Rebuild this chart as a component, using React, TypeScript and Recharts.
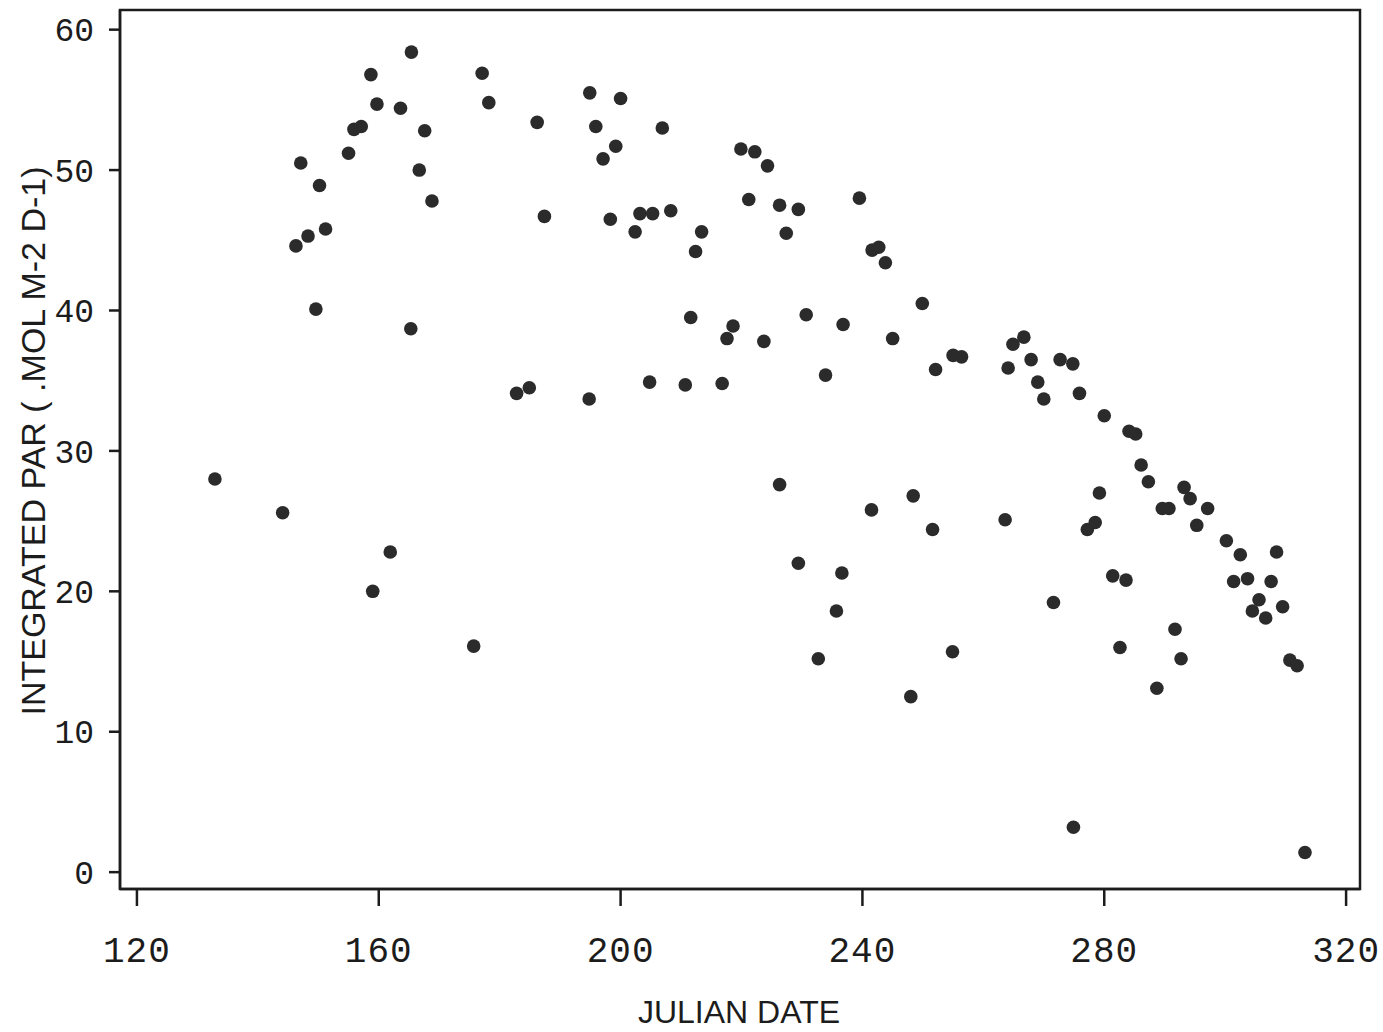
import { ReferenceArea, Scatter, ScatterChart, XAxis, YAxis } from "recharts";

// day of year for each sample
const julianDay = [
  132.9, 144.1, 146.3, 147.1, 148.3, 149.6, 150.2, 151.2, 155.0, 155.9,
  157.1, 158.7, 159.0, 159.7, 161.9, 163.6, 165.4, 165.3, 166.7, 167.6,
  168.8, 175.7, 177.1, 178.2, 182.8, 184.9, 186.2, 187.4, 194.8, 194.9,
  195.9, 197.1, 198.3, 199.2, 200.0, 202.4, 203.2, 205.3, 204.8, 206.9,
  208.3, 210.7, 211.6, 212.4, 213.4, 216.8, 217.6, 218.6, 219.9, 222.2,
  221.2, 223.7, 224.3, 226.3, 226.3, 227.4, 229.4, 229.4, 230.7, 232.7,
  233.9, 235.7, 236.6, 236.8, 239.5, 241.5, 241.6, 242.7, 243.8, 245.0,
  248.0, 248.4, 249.9, 251.6, 252.1, 254.9, 255.0, 256.4, 263.6, 264.1,
  264.9, 266.7, 267.9, 269.0, 270.0, 271.6, 272.7, 274.8, 274.9, 275.9,
  277.2, 278.5, 279.2, 280.0, 281.4, 282.6, 283.6, 284.1, 285.2, 286.1,
  287.3, 288.7, 289.6, 290.7, 291.7, 292.7, 293.2, 294.2, 295.3, 297.1,
  300.2, 301.4, 303.7, 302.5, 304.5, 305.6, 306.7, 307.6, 308.5, 309.5,
  310.7, 311.9, 313.2,
];

// integrated PAR per day
const integratedPar = [
  28.0, 25.6, 44.6, 50.5, 45.3, 40.1, 48.9, 45.8, 51.2, 52.9,
  53.1, 56.8, 20.0, 54.7, 22.8, 54.4, 58.4, 38.7, 50.0, 52.8,
  47.8, 16.1, 56.9, 54.8, 34.1, 34.5, 53.4, 46.7, 33.7, 55.5,
  53.1, 50.8, 46.5, 51.7, 55.1, 45.6, 46.9, 46.9, 34.9, 53.0,
  47.1, 34.7, 39.5, 44.2, 45.6, 34.8, 38.0, 38.9, 51.5, 51.3,
  47.9, 37.8, 50.3, 27.6, 47.5, 45.5, 47.2, 22.0, 39.7, 15.2,
  35.4, 18.6, 21.3, 39.0, 48.0, 25.8, 44.3, 44.5, 43.4, 38.0,
  12.5, 26.8, 40.5, 24.4, 35.8, 15.7, 36.8, 36.7, 25.1, 35.9,
  37.6, 38.1, 36.5, 34.9, 33.7, 19.2, 36.5, 36.2, 3.2, 34.1,
  24.4, 24.9, 27.0, 32.5, 21.1, 16.0, 20.8, 31.4, 31.2, 29.0,
  27.8, 13.1, 25.9, 25.9, 17.3, 15.2, 27.4, 26.6, 24.7, 25.9,
  23.6, 20.7, 20.9, 22.6, 18.6, 19.4, 18.1, 20.7, 22.8, 18.9,
  15.1, 14.7, 1.4,
];

const xTicks = [120, 160, 200, 240, 280, 320];
const yTicks = [0, 10, 20, 30, 40, 50, 60];

const X_DOMAIN: [number, number] = [117.2, 322.3];
const Y_DOMAIN: [number, number] = [-1.2, 61.4];

const INK = "#1c1c1c";

const points = julianDay.map((day, i) => ({ day, par: integratedPar[i] }));

function Dot(props: any) {
  const { cx, cy } = props;
  if (cx == null || cy == null) return null;
  return <circle cx={cx} cy={cy} r={6.8} fill="#2b2b2b" />;
}

function YTitle() {
  return (
    <text
      x={33}
      y={441}
      transform="rotate(-90 33 441)"
      textAnchor="middle"
      dominantBaseline="central"
      fontFamily="'Liberation Sans', Arial, sans-serif"
      fontSize={34}
      fill={INK}
    >
      INTEGRATED PAR ( .MOL M-2 D-1)
    </text>
  );
}

function XTitle() {
  return (
    <text
      x={739}
      y={1023}
      textAnchor="middle"
      fontFamily="'Liberation Sans', Arial, sans-serif"
      fontSize={32}
      fill={INK}
    >
      JULIAN DATE
    </text>
  );
}

export default function App() {
  return (
    <div style={{ position: "absolute", left: 0, top: 0, width: 1383, height: 1032, background: "#fff" }}>
      <ScatterChart width={1383} height={1032} margin={{ top: 10, right: 23, bottom: 0, left: 0 }}>
        <XAxis
          type="number"
          dataKey="day"
          domain={X_DOMAIN}
          ticks={xTicks}
          allowDataOverflow
          height={143}
          tickSize={17}
          tickMargin={30}
          axisLine={{ stroke: INK, strokeWidth: 2.5 }}
          tickLine={{ stroke: INK, strokeWidth: 2.5 }}
          tick={{ fontFamily: "'Liberation Mono', monospace", fontSize: 36, fill: INK, letterSpacing: 1 }}
          label={XTitle}
        />
        <YAxis
          type="number"
          dataKey="par"
          domain={Y_DOMAIN}
          ticks={yTicks}
          allowDataOverflow
          width={120}
          tickSize={11}
          tickMargin={15}
          axisLine={{ stroke: INK, strokeWidth: 2.5 }}
          tickLine={{ stroke: INK, strokeWidth: 2.5 }}
          tick={{ fontFamily: "'Liberation Mono', monospace", fontSize: 33, fill: INK }}
          label={YTitle}
        />
        <ReferenceArea
          x1={X_DOMAIN[0]}
          x2={X_DOMAIN[1]}
          y1={Y_DOMAIN[0]}
          y2={Y_DOMAIN[1]}
          fill="none"
          fillOpacity={0}
          stroke={INK}
          strokeWidth={2.5}
        />
        <Scatter data={points} shape={Dot} isAnimationActive={false} />
      </ScatterChart>
    </div>
  );
}
